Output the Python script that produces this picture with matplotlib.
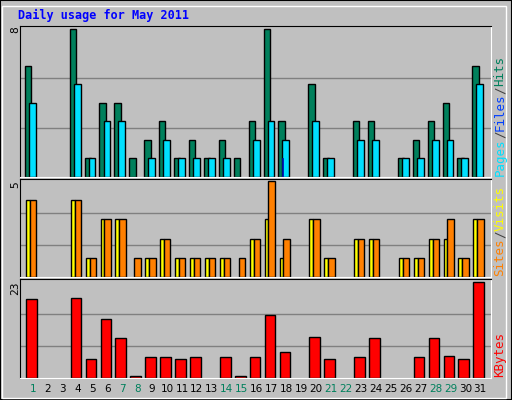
import matplotlib
matplotlib.use("Agg")
import matplotlib.pyplot as plt
import numpy as np

days = list(range(1, 32))
weekend = [1, 7, 8, 14, 15, 21, 22, 28, 29]
hits  = [6,0,0,8,1,4,4,1,2,3,1,2,1,2,1,3,8,3,0,5,1,0,3,3,0,1,2,3,4,1,6]
files = [4,0,0,5,1,3,3,0,1,2,1,1,1,1,0,2,3,2,0,3,1,0,2,2,0,1,1,2,2,1,5]
pages = [0]*17 + [1] + [0]*13
sites = [4,0,0,4,1,3,3,0,1,2,1,1,1,1,0,2,3,1,0,3,1,0,2,2,0,1,1,2,2,1,3]
visits= [4,0,0,4,1,3,3,1,1,2,1,1,1,1,1,2,5,2,0,3,1,0,2,2,0,1,1,2,3,1,3]
kbytes= [19,0,0,19.1,4.5,14.1,9.5,0.4,5,5,4.5,5,0,5,0.4,5,15.1,6.2,0,9.8,4.5,0,5,9.5,0,0,5,9.5,5.2,4.5,23]

W, H = 512, 400
fig = plt.figure(figsize=(W/100, H/100), dpi=100)
fig.patch.set_facecolor('#C0C0C0')
fig.add_artist(plt.Rectangle((0, 0), 1, 1, transform=fig.transFigure, fill=False, ec='black', lw=1.5))
fig.add_artist(plt.Rectangle((2/W, 2/H), 1-8/W, 1-8/H, transform=fig.transFigure, fill=False, ec='white', lw=1))

def ax_at(x0, y0, x1, y1):
    a = fig.add_axes([x0/W, 1-y1/H, (x1-x0)/W, (y1-y0)/H])
    a.set_facecolor('#C0C0C0')
    a.set_xlim(0.14, 31.72)
    a.set_xticks([]); a.set_yticks([])
    for s in a.spines.values():
        s.set_color('black')
    a.spines['bottom'].set_color('white'); a.spines['right'].set_color('white')
    return a

x = np.array(days)
kw = dict(edgecolor='black', linewidth=1, align='edge')

def nz(v):
    v = np.array(v, dtype=float)
    return np.where(v > 0, v, np.nan)

a1 = ax_at(20, 26, 491, 177)
m1 = max(hits)
a1.set_ylim(0, m1*1.02)
for g in (m1/3, 2*m1/3):
    a1.axhline(g, color='#808080', lw=1, zorder=0)
a1.bar(x-0.53, nz(hits), 0.42, color='#00805C', **kw)
a1.bar(x-0.26, nz(files), 0.46, color='#00E0FF', **kw)
a1.bar(x-0.3, nz(pages), 0.1, color='#0040FF', edgecolor='#0000A0', linewidth=0.5, align='edge')
fig.text(15/W, 1-30/H, str(m1), rotation=90, ha='center', va='center', family='DejaVu Sans Mono', fontsize=8)

a2 = ax_at(20, 179, 491, 277)
m2 = max(visits)
a2.set_ylim(0, m2*1.02)
for g in (m2/3, 2*m2/3):
    a2.axhline(g, color='#808080', lw=1, zorder=0)
a2.bar(x-0.46, nz(sites), 0.26, color='#FFFF00', **kw)
a2.bar(x-0.2, nz(visits), 0.43, color='#FF8000', **kw)
fig.text(15/W, 1-185/H, str(m2), rotation=90, ha='center', va='center', family='DejaVu Sans Mono', fontsize=8)

a3 = ax_at(20, 279, 491, 378)
m3 = 23
a3.set_ylim(0, m3*1.03)
for g in (m3/3, 2*m3/3):
    a3.axhline(g, color='#808080', lw=1, zorder=0)
a3.bar(x-0.46, nz(kbytes), 0.72, color='#FF0000', **kw)
fig.text(15/W, 1-288/H, str(m3), rotation=90, ha='center', va='center', family='DejaVu Sans Mono', fontsize=8)

for d in days:
    px = 20 + (d - 0.14) / (31.72 - 0.14) * 471
    fig.text(px/W, 1-389/H, str(d), ha='center', va='center', fontsize=7.5,
             color='#00805C' if d in weekend else 'black', family='DejaVu Sans')

fig.text(18/W, 1-15/H, 'Daily usage for May 2011', color='#0000FF', fontweight='bold',
         family='DejaVu Sans Mono', fontsize=8.5, ha='left', va='center')

renderer = fig.canvas.get_renderer()
def side(y, parts):
    cy = y
    for txt, col in parts:
        t = fig.text(500/W, 1-cy/H, txt, rotation=90, color=col, family='DejaVu Sans Mono',
                     fontsize=9, ha='center', va='bottom')
        bb = t.get_window_extent(renderer)
        cy -= bb.height

side(176, [('Pages', '#00E0FF'), ('/', '#404040'), ('Files', '#0040FF'), ('/', '#404040'), ('Hits', '#00805C')])
side(276, [('Sites', '#FF8000'), ('/', '#404040'), ('Visits', '#FFFF00')])
side(377, [('KBytes', '#FF0000')])

fig.savefig('out.png', dpi=100, facecolor=fig.get_facecolor())
